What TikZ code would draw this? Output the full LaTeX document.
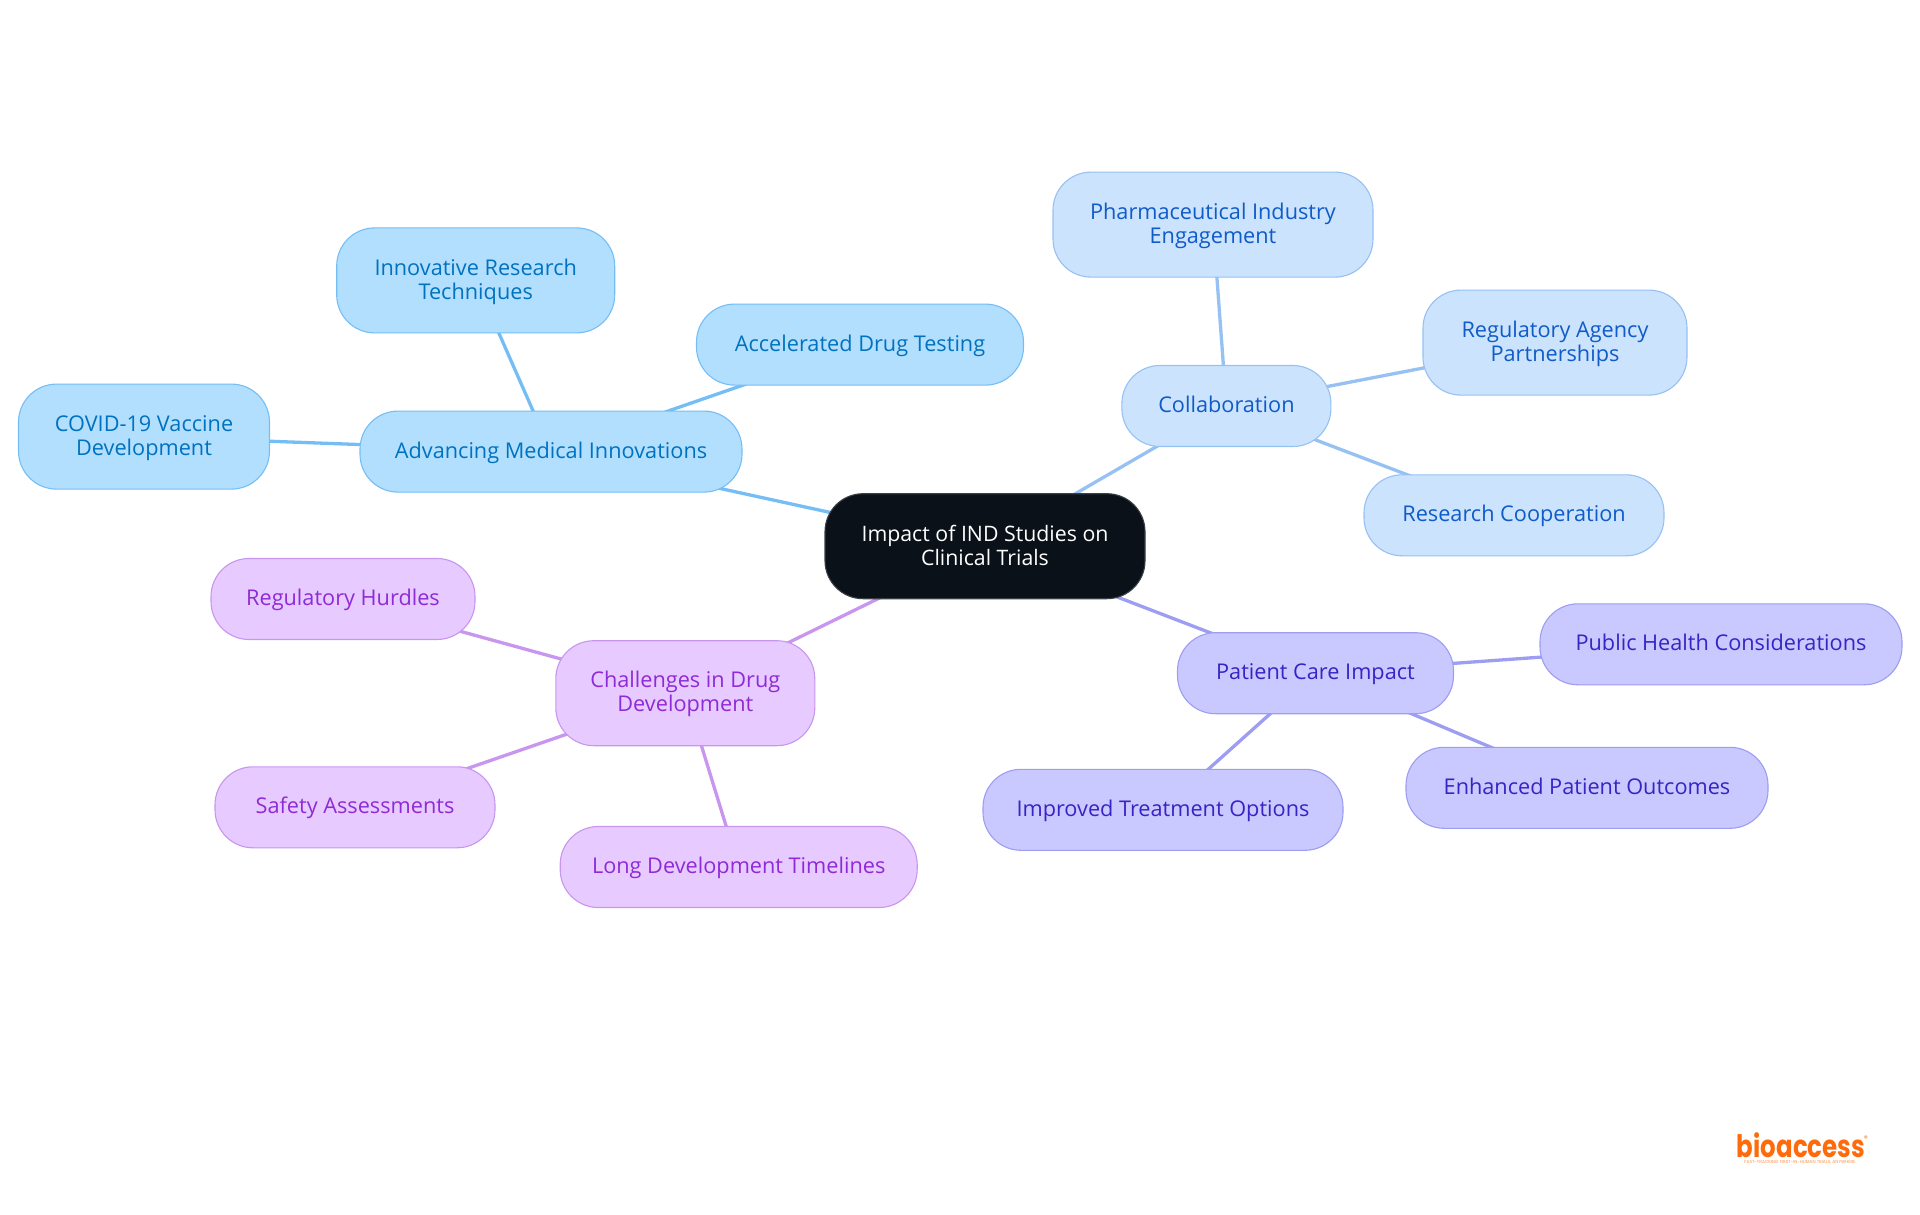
\documentclass[tikz,border=0pt]{standalone}
\usepackage{fontspec}
\setmainfont{Open Sans}
\newfontfamily\logofont{Poppins}
\usetikzlibrary{backgrounds}
\definecolor{rootfill}{HTML}{0B1119}
\definecolor{rootline}{HTML}{3A3F45}
\definecolor{afill}{HTML}{B3DFFF}
\definecolor{aline}{HTML}{75BEF5}
\definecolor{atext}{HTML}{0072BF}
\definecolor{bfill}{HTML}{CCE3FD}
\definecolor{bline}{HTML}{96C1F2}
\definecolor{btext}{HTML}{0F5BC8}
\definecolor{cfill}{HTML}{C9C9FF}
\definecolor{cline}{HTML}{9D9DF2}
\definecolor{ctext}{HTML}{3A22C4}
\definecolor{dfill}{HTML}{E7CAFF}
\definecolor{dline}{HTML}{C896EE}
\definecolor{dtext}{HTML}{8F2BD6}
\definecolor{logoorange}{HTML}{FF6B0A}
\newcommand{\ms}{\rule[-5.5pt]{0pt}{24pt}}
\newcommand{\mt}{\rule[-5.5pt]{0pt}{26pt}}
\tikzset{
  x=1pt,y=-1pt,
  mind/.style={rounded corners=38pt,line width=1.1pt,align=center,inner sep=0pt,
    font=\fontsize{21.7}{24}\selectfont},
  rootnode/.style={mind,fill=rootfill,draw=rootline,text=white,font=\fontsize{21.3}{24}\selectfont},
  anode/.style={mind,fill=afill,draw=aline,text=atext},
  bnode/.style={mind,fill=bfill,draw=bline,text=btext},
  cnode/.style={mind,fill=cfill,draw=cline,text=ctext},
  dnode/.style={mind,fill=dfill,draw=dline,text=dtext},
  aedge/.style={draw=aline,line width=3.3pt},
  bedge/.style={draw=bline,line width=3.3pt},
  cedge/.style={draw=cline,line width=3.3pt},
  dedge/.style={draw=dline,line width=3.3pt},
}
\newcommand{\mnode}[7]{\node[#1,minimum width=#4pt,minimum height=#5pt] (#2) at (#6,#7) {#3};}
\begin{document}
\begin{tikzpicture}
\path[use as bounding box] (0,0) rectangle (1920,1215);
\mnode{rootnode}{root}{\mt Impact of IND Studies on\\\ms Clinical Trials}{320}{105}{985}{546.2}
\mnode{anode}{adv}{\ms Advancing Medical Innovations}{382}{81}{551}{451.6}
\mnode{anode}{acc}{\ms Accelerated Drug Testing}{327}{81}{860}{344.6}
\mnode{anode}{inn}{\mt Innovative Research\\\ms Techniques}{278}{105}{475.7}{280.4}
\mnode{anode}{cov}{\ms COVID-19 Vaccine\\\ms Development}{251}{105}{144}{436.6}
\mnode{bnode}{col}{\ms Collaboration}{209}{81}{1226.4}{406}
\mnode{bnode}{pha}{\ms Pharmaceutical Industry\\\ms Engagement}{320}{105}{1213}{224.6}
\mnode{bnode}{rag}{\ms Regulatory Agency\\\ms Partnerships}{264}{105}{1555}{342.6}
\mnode{bnode}{res}{\ms Research Cooperation}{300}{81}{1514}{515.3}
\mnode{cnode}{pat}{\ms Patient Care Impact}{276}{81}{1315.5}{673.2}
\mnode{cnode}{pub}{\ms Public Health Considerations}{362}{81}{1721}{644.3}
\mnode{cnode}{enh}{\ms Enhanced Patient Outcomes}{362}{81}{1587}{787.8}
\mnode{cnode}{imp}{\ms Improved Treatment Options}{360}{81}{1163}{809.8}
\mnode{dnode}{cha}{\ms Challenges in Drug\\\ms Development}{259}{105}{685.3}{693.2}
\mnode{dnode}{reg}{\ms Regulatory Hurdles}{264}{81}{343}{599}
\mnode{dnode}{saf}{\ms Safety Assessments}{280}{81}{355}{807.3}
\mnode{dnode}{lon}{\ms Long Development Timelines}{357}{81}{738.7}{867}
\begin{scope}[on background layer]
\draw[aedge] (root.center) -- (adv.center);
\draw[aedge] (adv.center) -- (acc.center);
\draw[aedge] (adv.center) -- (inn.center);
\draw[aedge] (adv.center) -- (cov.center);
\draw[bedge] (root.center) -- (col.center);
\draw[bedge] (col.center) -- (pha.center);
\draw[bedge] (col.center) -- (rag.center);
\draw[bedge] (col.center) -- (res.center);
\draw[cedge] (root.center) -- (pat.center);
\draw[cedge] (pat.center) -- (pub.center);
\draw[cedge] (pat.center) -- (enh.center);
\draw[cedge] (pat.center) -- (imp.center);
\draw[dedge] (root.center) -- (cha.center);
\draw[dedge] (cha.center) -- (reg.center);
\draw[dedge] (cha.center) -- (saf.center);
\draw[dedge] (cha.center) -- (lon.center);
\end{scope}
\node[text=logoorange,inner sep=0pt,anchor=base,xscale=0.79,font=\logofont\bfseries\fontsize{31}{31}\selectfont] (logo) at (1801,1157) {bioaccess};
\node[text=logoorange,inner sep=0pt,font=\logofont\fontsize{8}{8}\selectfont] (regmark) at (1866,1139) {®};
\node[text=logoorange!75,inner sep=0pt,font=\logofont\fontsize{4.4}{5}\selectfont] (tag) at (1800,1162.5) {FAST-TRACKING FIRST-IN-HUMAN TRIALS, ANYWHERE};
\end{tikzpicture}
\end{document}
